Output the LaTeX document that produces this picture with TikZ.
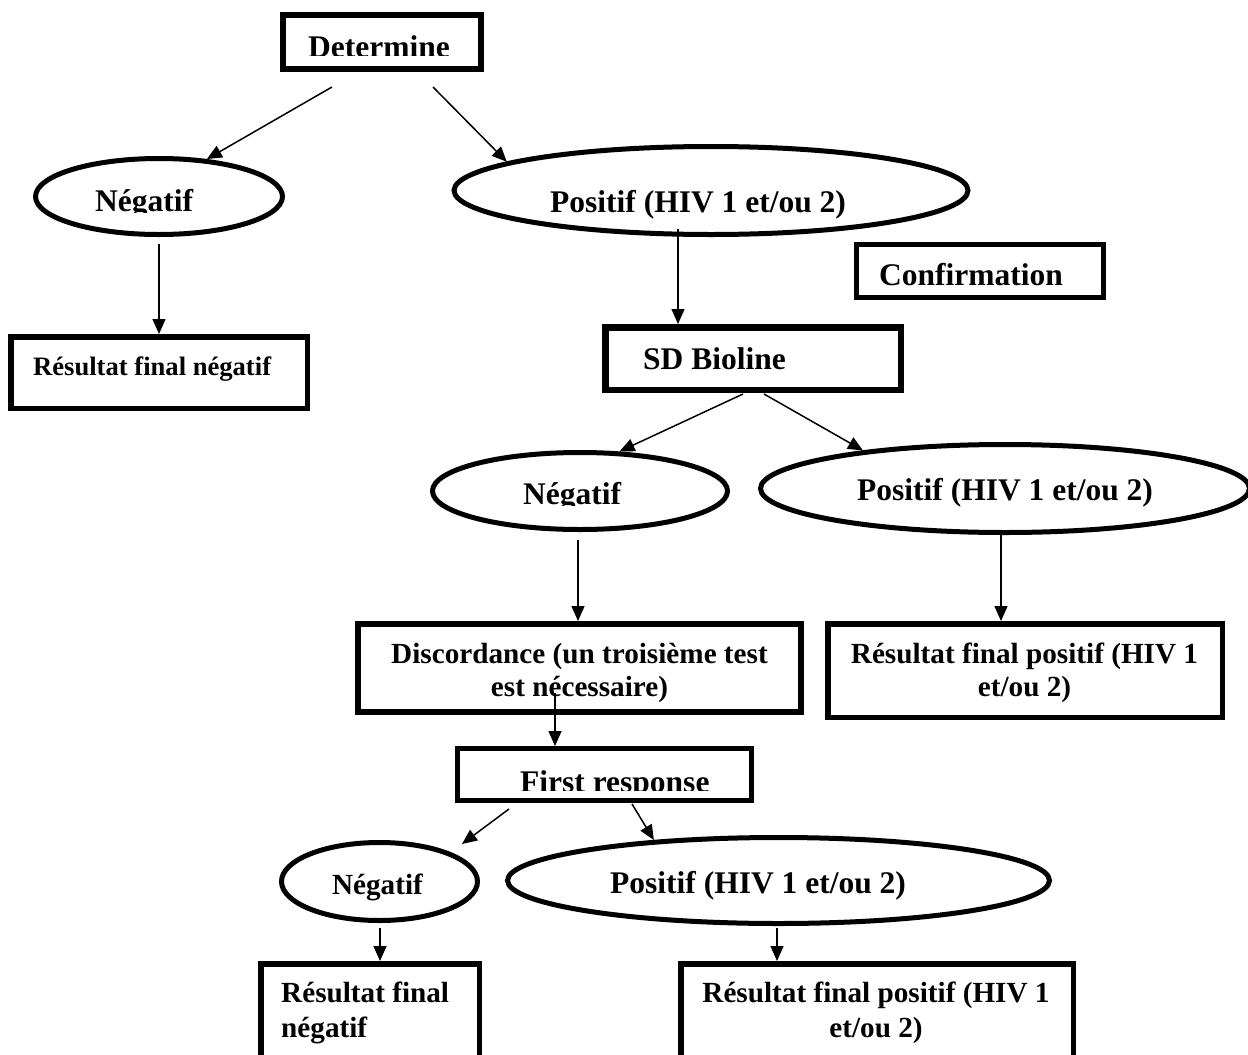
\documentclass[tikz,border=0pt]{standalone}
\usepackage{fontspec}
\setmainfont{Liberation Serif}
\usetikzlibrary{shapes.geometric,arrows.meta}
\newcommand\FBig{\fontsize{31.5}{36}\selectfont\bfseries}
\newcommand\FMed{\fontsize{29.2}{33}\selectfont\bfseries}
\newcommand\FMedB{\fontsize{29.2}{35}\selectfont\bfseries}
\newcommand\FSmall{\fontsize{26.6}{30}\selectfont\bfseries}
\begin{document}
\begin{tikzpicture}[x=1pt,y=-1pt,
  box/.style={draw,rectangle,inner sep=0pt,line width=5.5pt},
  oval/.style={draw,ellipse,inner sep=0pt,line width=5pt},
  lbl/.style={inner sep=0pt,font=\FBig},
  lblmed/.style={inner sep=0pt,font=\FMed},
  lblmedb/.style={inner sep=0pt,font=\FMedB},
  lblsmall/.style={inner sep=0pt,font=\FSmall},
  arr/.style={line width=1.5pt,-{Triangle[length=15pt,width=13pt]}}
]
\path[use as bounding box] (0,0) rectangle (1248,1055);
\fill[white] (0,0) rectangle (1248,1055);
\clip (0,0) rectangle (1248,1055);

% shapes
\node[box,line width=6pt,minimum width=198pt,minimum height=54pt] (det) at (382,42) {};
\node[oval,minimum width=247pt,minimum height=76pt] (neg1) at (159,196.5) {};
\node[oval,minimum width=514pt,minimum height=88pt] (pos1) at (711,190.5) {};
\node[box,minimum width=296.5pt,minimum height=71.5pt] (res1) at (159,372.5) {};
\node[box,line width=5pt,minimum width=247pt,minimum height=53pt] (conf) at (980,271) {};
\node[box,line width=6.5pt,minimum width=295.5pt,minimum height=62.5pt] (sdb) at (753,358.5) {};
\node[oval,minimum width=295pt,minimum height=77pt] (neg2) at (580,491) {};
\node[oval,minimum width=489pt,minimum height=88pt] (pos2) at (1005,488.5) {};
\node[box,line width=6pt,minimum width=443pt,minimum height=88pt] (disc) at (579.5,668) {};
\node[box,minimum width=394.5pt,minimum height=93.5pt] (res2) at (1025,670.5) {};
\node[box,line width=5pt,minimum width=294pt,minimum height=52pt] (fr) at (604.5,774.5) {};
\node[oval,minimum width=196pt,minimum height=78pt] (neg3) at (379.5,881.5) {};
\node[oval,minimum width=542pt,minimum height=86pt] (pos3) at (778.5,880.5) {};
\node[box,minimum width=218.5pt,minimum height=132.5pt] (res3) at (370,1030) {};
\node[box,minimum width=392.5pt,minimum height=133.5pt] (res4) at (877,1030.5) {};

% texts (some clipped like the original text boxes)
\begin{scope}
  \clip (290,20) rectangle (470,55.5);
  \node[lbl,anchor=base west] (tdet) at (308,57.5) {Determine};
\end{scope}
\begin{scope}
  \clip (60,170) rectangle (260,212);
  \node[lbl,anchor=base west] (tneg1) at (95,211) {Négatif};
\end{scope}
\node[lbl,anchor=base west] (tpos1) at (550,212) {Positif (HIV 1 et/ou 2)};
\node[lblsmall,anchor=base west] (tres1) at (33,375) {Résultat final négatif};
\node[lbl,anchor=base west] (tconf) at (879,285) {Confirmation};
\node[lbl,anchor=base west] (tsdb) at (643,369) {SD Bioline};
\begin{scope}
  \clip (480,460) rectangle (700,505);
  \node[lbl,anchor=base west] (tneg2) at (523,504) {Négatif};
\end{scope}
\node[lbl,anchor=base west] (tpos2) at (857,500) {Positif (HIV 1 et/ou 2)};
\node[lblmed,anchor=base] (tdisc) at (579.5,663)
  {\begin{tabular}[t]{@{}c@{}}Discordance (un troisième test\\est nécessaire)\end{tabular}};
\node[lblmed,anchor=base] (tres2) at (1024.5,663)
  {\begin{tabular}[t]{@{}c@{}}Résultat final positif (HIV 1\\et/ou 2)\end{tabular}};
\begin{scope}
  \clip (470,755) rectangle (740,790);
  \node[lbl,anchor=base west] (tfr) at (520,792) {First response};
\end{scope}
\node[lblmed,anchor=base] (tneg3) at (377.5,894) {Négatif};
\node[lbl,anchor=base west] (tpos3) at (610,893) {Positif (HIV 1 et/ou 2)};
\node[lblmedb,anchor=base west] (tres3) at (281,1002)
  {\begin{tabular}[t]{@{}l@{}}Résultat final\\négatif\end{tabular}};
\node[lblmedb,anchor=base] (tres4) at (876,1002)
  {\begin{tabular}[t]{@{}c@{}}Résultat final positif (HIV 1\\et/ou 2)\end{tabular}};

% connectors
\coordinate (c1) at (332,87);
\coordinate (c2) at (433,87);
\coordinate (c3) at (159,244);
\coordinate (c4) at (678,229);
\coordinate (c5) at (743,394);
\coordinate (c6) at (764,394);
\coordinate (c7) at (578,540);
\coordinate (c8) at (1001,535);
\coordinate (c9) at (555,693);
\coordinate (c10) at (509,809);
\coordinate (e10) at (462,844);
\coordinate (c11) at (632,804);
\coordinate (c12) at (380,928);
\coordinate (c13) at (777,928);

\draw[arr] (c1) -- (neg1.38);
\draw[arr] (c2) -- (pos1.172);
\draw[arr] (c3) -- (res1.north);
\draw[arr] (c4) -- (c4 |- sdb.north);
\draw[arr] (c5) -- (neg2.45);
\draw[arr] (c6) -- (pos2.165);
\draw[arr] (c7) -- (c7 |- disc.north);
\draw[arr] (c8) -- (c8 |- res2.north);
\draw[arr] (c9) -- (c9 |- fr.north);
\draw[arr] (c10) -- (e10);
\draw[arr] (c11) -- (pos3.162);
\draw[arr] (c12) -- (c12 |- res3.north);
\draw[arr] (c13) -- (c13 |- res4.north);
\end{tikzpicture}
\end{document}
